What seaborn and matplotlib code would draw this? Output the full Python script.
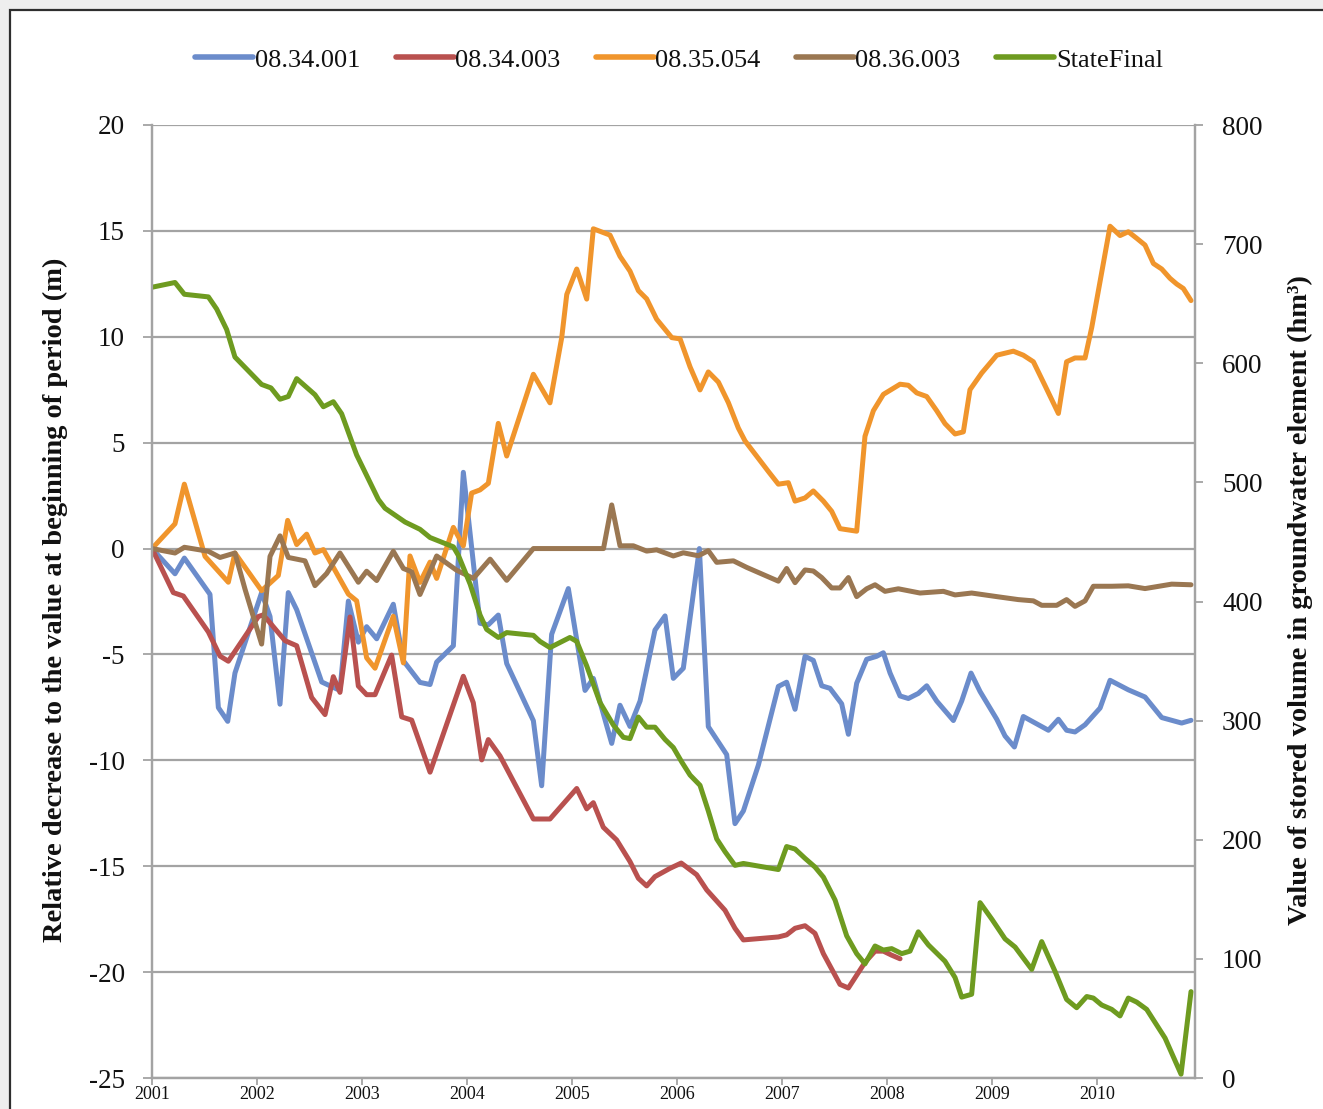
import numpy as np
import pandas as pd
import matplotlib
matplotlib.use("Agg")
import matplotlib.pyplot as plt
import seaborn as sns
from matplotlib.patches import Rectangle

# ---------------- data (decimal years) ----------------
blue_x = [2001.0, 2001.219, 2001.308, 2001.552, 2001.632, 2001.721, 2001.79, 2002.044, 2002.124, 2002.219,
          2002.298, 2002.378, 2002.616, 2002.79, 2002.87, 2002.965, 2003.044, 2003.14, 2003.298, 2003.394,
          2003.552, 2003.648, 2003.711, 2003.87, 2003.965, 2004.124, 2004.203, 2004.298, 2004.378, 2004.632,
          2004.711, 2004.806, 2004.965, 2005.124, 2005.203, 2005.378, 2005.457, 2005.552, 2005.648, 2005.79,
          2005.886, 2005.965, 2006.06, 2006.213, 2006.298, 2006.473, 2006.552, 2006.632, 2006.775, 2006.965,
          2007.044, 2007.124, 2007.219, 2007.298, 2007.378, 2007.457, 2007.568, 2007.632, 2007.711, 2007.806,
          2007.9, 2007.965, 2008.029, 2008.124, 2008.203, 2008.298, 2008.378, 2008.473, 2008.632, 2008.711,
          2008.8, 2008.886, 2008.965, 2009.045, 2009.124, 2009.213, 2009.298, 2009.537, 2009.632, 2009.71,
          2009.79, 2009.886, 2010.029, 2010.124, 2010.298, 2010.457, 2010.616, 2010.806, 2010.895]
blue_y = [0, -1.19, -0.45, -2.16, -7.51, -8.16, -5.88, -2.08, -3.21, -7.35,
          -2.08, -2.89, -6.3, -6.7, -2.48, -4.42, -3.69, -4.26, -2.63, -5.3,
          -6.32, -6.42, -5.36, -4.59, 3.6, -3.53, -3.6, -3.14, -5.43, -8.13,
          -11.2, -4.05, -1.89, -6.7, -6.13, -9.2, -7.4, -8.4, -7.2, -3.85,
          -3.18, -6.13, -5.65, 0.0, -8.41, -9.73, -12.99, -12.39, -10.22, -6.51,
          -6.31, -7.59, -5.09, -5.28, -6.48, -6.6, -7.33, -8.77, -6.36, -5.23,
          -5.09, -4.92, -5.88, -6.96, -7.08, -6.84, -6.48, -7.2, -8.12, -7.2,
          -5.88, -6.75, -7.4, -8.06, -8.85, -9.37, -7.93, -8.58, -8.06, -8.58,
          -8.66, -8.32, -7.53, -6.22, -6.67, -7.01, -7.98, -8.24, -8.11]

red_x = [2001.0, 2001.203, 2001.298, 2001.537, 2001.648, 2001.727, 2002.013, 2002.06, 2002.267, 2002.378,
         2002.52, 2002.648, 2002.727, 2002.79, 2002.886, 2002.965, 2003.044, 2003.124, 2003.282, 2003.378,
         2003.473, 2003.648, 2003.965, 2004.06, 2004.14, 2004.203, 2004.314, 2004.632, 2004.79, 2005.045,
         2005.14, 2005.203, 2005.298, 2005.425, 2005.552, 2005.632, 2005.711, 2005.79, 2005.933, 2006.04,
         2006.187, 2006.283, 2006.457, 2006.552, 2006.632, 2006.965, 2007.044, 2007.124, 2007.219, 2007.314,
         2007.394, 2007.552, 2007.632, 2007.79, 2007.886, 2007.965, 2008.044, 2008.124]
red_y = [0, -2.08, -2.24, -3.94, -5.08, -5.32, -3.21, -3.13, -4.35, -4.59,
         -7.03, -7.84, -6.05, -6.79, -3.23, -6.49, -6.9, -6.9, -5.03, -7.95,
         -8.1, -10.56, -6.03, -7.28, -9.98, -9.02, -9.79, -12.77, -12.77, -11.33,
         -12.29, -12.0, -13.16, -13.76, -14.78, -15.57, -15.93, -15.49, -15.1, -14.85,
         -15.4, -16.12, -17.08, -17.93, -18.48, -18.34, -18.24, -17.93, -17.81, -18.17,
         -19.13, -20.58, -20.75, -19.54, -19.01, -19.01, -19.2, -19.37]

orange_x = [2001.0, 2001.219, 2001.308, 2001.505, 2001.727, 2001.79, 2002.044, 2002.203, 2002.292, 2002.378,
            2002.473, 2002.552, 2002.632, 2002.87, 2002.949, 2003.044, 2003.124, 2003.298, 2003.394, 2003.457,
            2003.552, 2003.648, 2003.711, 2003.87, 2003.965, 2004.044, 2004.124, 2004.203, 2004.298, 2004.378,
            2004.632, 2004.79, 2004.902, 2004.95, 2005.045, 2005.14, 2005.203, 2005.362, 2005.457, 2005.552,
            2005.632, 2005.711, 2005.806, 2005.95, 2006.029, 2006.124, 2006.219, 2006.298, 2006.394, 2006.489,
            2006.584, 2006.648, 2006.759, 2006.87, 2006.965, 2007.06, 2007.124, 2007.219, 2007.298, 2007.394,
            2007.473, 2007.552, 2007.711, 2007.79, 2007.87, 2007.965, 2008.124, 2008.203, 2008.283, 2008.378,
            2008.473, 2008.552, 2008.648, 2008.727, 2008.79, 2008.902, 2009.045, 2009.203, 2009.298, 2009.394,
            2009.505, 2009.632, 2009.71, 2009.79, 2009.886, 2009.95, 2010.124, 2010.219, 2010.298, 2010.378,
            2010.457, 2010.537, 2010.616, 2010.695, 2010.759, 2010.822, 2010.895]
orange_y = [0, 1.17, 3.04, -0.37, -1.59, -0.21, -1.99, -1.27, 1.33, 0.19,
            0.68, -0.21, -0.05, -2.15, -2.47, -5.16, -5.65, -3.2, -5.4, -0.35,
            -1.6, -0.64, -1.41, 1.0, 0.13, 2.62, 2.77, 3.08, 5.91, 4.37,
            8.23, 6.88, 9.96, 12.0, 13.2, 11.78, 15.1, 14.8, 13.8, 13.1,
            12.18, 11.79, 10.83, 9.96, 9.9, 8.58, 7.49, 8.34, 7.86, 6.89,
            5.69, 5.08, 4.36, 3.64, 3.04, 3.11, 2.24, 2.39, 2.72, 2.24,
            1.76, 0.94, 0.82, 5.3, 6.51, 7.28, 7.76, 7.71, 7.35, 7.18,
            6.51, 5.9, 5.41, 5.51, 7.5, 8.29, 9.13, 9.32, 9.13, 8.82,
            7.69, 6.38, 8.82, 9.0, 9.0, 10.45, 15.22, 14.78, 14.96, 14.65,
            14.33, 13.46, 13.2, 12.76, 12.49, 12.28, 11.71]

brown_x = [2001.0, 2001.219, 2001.308, 2001.537, 2001.648, 2001.79, 2001.886, 2002.044, 2002.124, 2002.219,
           2002.298, 2002.457, 2002.552, 2002.663, 2002.79, 2002.965, 2003.044, 2003.14, 2003.298, 2003.394,
           2003.473, 2003.552, 2003.711, 2003.9, 2004.06, 2004.22, 2004.378, 2004.632, 2005.3, 2005.378,
           2005.457, 2005.584, 2005.711, 2005.806, 2005.965, 2006.06, 2006.203, 2006.298, 2006.378, 2006.537,
           2006.664, 2006.965, 2007.044, 2007.124, 2007.219, 2007.298, 2007.378, 2007.473, 2007.552, 2007.632,
           2007.711, 2007.806, 2007.886, 2007.981, 2008.108, 2008.314, 2008.537, 2008.648, 2008.806, 2009.06,
           2009.25, 2009.394, 2009.473, 2009.616, 2009.71, 2009.79, 2009.886, 2009.965, 2010.14, 2010.298,
           2010.457, 2010.711, 2010.895]
brown_y = [0, -0.21, 0.06, -0.13, -0.42, -0.21, -1.92, -4.51, -0.37, 0.6,
           -0.42, -0.58, -1.75, -1.18, -0.21, -1.59, -1.07, -1.51, -0.13, -0.94,
           -1.1, -2.17, -0.35, -1.02, -1.41, -0.5, -1.5, 0.0, 0.0, 2.06,
           0.13, 0.13, -0.12, -0.06, -0.35, -0.2, -0.34, -0.1, -0.65, -0.58,
           -0.89, -1.54, -0.94, -1.61, -1.01, -1.06, -1.37, -1.86, -1.86, -1.37,
           -2.27, -1.9, -1.71, -2.02, -1.9, -2.1, -2.02, -2.19, -2.1, -2.28,
           -2.41, -2.47, -2.68, -2.68, -2.41, -2.73, -2.47, -1.78, -1.78, -1.76,
           -1.89, -1.68, -1.71]

green_x = [2001.0, 2001.219, 2001.308, 2001.537, 2001.616, 2001.711, 2001.79, 2002.044, 2002.133, 2002.219,
           2002.298, 2002.378, 2002.552, 2002.632, 2002.727, 2002.806, 2002.949, 2003.156, 2003.219, 2003.41,
           2003.552, 2003.648, 2003.87, 2003.92, 2004.03, 2004.124, 2004.187, 2004.298, 2004.378, 2004.632,
           2004.695, 2004.79, 2004.98, 2005.045, 2005.14, 2005.267, 2005.394, 2005.489, 2005.552, 2005.632,
           2005.711, 2005.79, 2005.886, 2005.965, 2006.045, 2006.124, 2006.219, 2006.298, 2006.378, 2006.457,
           2006.552, 2006.632, 2006.965, 2007.044, 2007.124, 2007.219, 2007.314, 2007.394, 2007.505, 2007.616,
           2007.711, 2007.79, 2007.886, 2007.965, 2008.044, 2008.14, 2008.219, 2008.298, 2008.394, 2008.552,
           2008.648, 2008.711, 2008.806, 2008.886, 2009.0, 2009.124, 2009.22, 2009.378, 2009.473, 2009.6,
           2009.71, 2009.806, 2009.902, 2009.965, 2010.044, 2010.14, 2010.219, 2010.298, 2010.378, 2010.473,
           2010.648, 2010.8, 2010.895]
green_y = [663.8, 667.8, 657.9, 655.7, 645.5, 628.3, 605.2, 582.2, 579.3, 569.8,
           572.1, 587.1, 573.6, 563.5, 567.7, 557.6, 523.0, 485.6, 478.3, 466.7,
           460.6, 453.7, 445.9, 438.3, 414.5, 388.7, 376.6, 369.8, 373.9, 371.6,
           366.5, 361.3, 369.8, 366.5, 345.9, 315.1, 296.3, 286.0, 284.9, 303.0,
           294.5, 294.5, 284.2, 277.4, 265.3, 254.3, 245.7, 224.2, 200.7, 190.0,
           178.5, 180.1, 175.0, 194.3, 192.2, 184.4, 177.1, 168.6, 149.4, 119.3,
           104.4, 95.8, 110.8, 107.4, 108.6, 104.4, 106.5, 122.7, 111.7, 98.0,
           84.3, 67.9, 70.3, 147.2, 133.1, 116.8, 109.9, 91.2, 114.5, 89.5,
           66.0, 59.0, 68.4, 67.1, 61.3, 57.6, 52.1, 67.1, 63.7, 57.6,
           33.5, 3.2, 72.5]

series_names = ["08.34.001", "08.34.003", "08.35.054", "08.36.003", "StateFinal"]
year_ticks = [2001, 2002, 2003, 2004, 2005, 2006, 2007, 2008, 2009, 2010]
left_ticks = [-25, -20, -15, -10, -5, 0, 5, 10, 15, 20]
right_ticks = [0, 100, 200, 300, 400, 500, 600, 700, 800]
left_label = "Relative decrease to the value at beginning of period (m)"
right_label = "Value of stored volume in groundwater element (hm³)"

colors = ["#6B8CCB", "#B9514F", "#F0952C", "#9A7752", "#6E9B20"]

# ---------------- style ----------------
sns.set_theme(style="white")
plt.rcParams['font.family'] = ['Liberation Serif', 'DejaVu Serif']
plt.rcParams['axes.unicode_minus'] = False

W, H = 1323, 1109
fig = plt.figure(figsize=(W / 100, H / 100), dpi=100, facecolor="#eeeeee")
fig.patches.append(Rectangle((10 / W, -0.05), 1.0, 1 - 10 / H + 0.05, transform=fig.transFigure,
                             facecolor="white", edgecolor="#2e2e2e", linewidth=1.6, zorder=-10))

ax = fig.add_axes([152 / W, 1 - 1078 / H, 1043 / W, 953 / H])
ax.set_facecolor("white")
ax2 = ax.twinx()

lw = 3.6
left_series = [(blue_x, blue_y), (red_x, red_y), (orange_x, orange_y), (brown_x, brown_y)]
handles = []
for (xs, ys), name, c in zip(left_series, series_names[:4], colors[:4]):
    df = pd.DataFrame({"year": xs, "value": ys})
    sns.lineplot(data=df, x="year", y="value", ax=ax, color=c, linewidth=lw, sort=False,
                 estimator=None, label=name, solid_capstyle="round", solid_joinstyle="round")
    handles.append(ax.lines[-1])

dfg = pd.DataFrame({"year": green_x, "value": green_y})
sns.lineplot(data=dfg, x="year", y="value", ax=ax2, color=colors[4], linewidth=lw, sort=False,
             estimator=None, label=series_names[4], solid_capstyle="round", solid_joinstyle="round")
handles.append(ax2.lines[-1])

for a in (ax, ax2):
    if a.get_legend() is not None:
        a.get_legend().remove()

grid_c = "#a3a3a3"
ax.set_xlim(2001, 2010.933)
ax.set_ylim(-25, 20)
ax2.set_ylim(0, 800)
ax.set_yticks(left_ticks)
ax.set_yticklabels([str(t) for t in left_ticks])
ax2.set_yticks(right_ticks)
ax2.set_yticklabels([str(t) for t in right_ticks])
ax.set_xticks(year_ticks)
ax.set_xticklabels([str(t) for t in year_ticks])

ax.yaxis.grid(True, color=grid_c, linewidth=1.6)
ax.xaxis.grid(False)
ax.set_axisbelow(True)

for a in (ax, ax2):
    a.spines["top"].set_visible(False)
    for s in ("left", "right", "bottom"):
        a.spines[s].set_color(grid_c)
        a.spines[s].set_linewidth(1.6)

ax.tick_params(axis="y", which="major", direction="out", length=6.5, width=1.3, color=grid_c,
               pad=13, labelsize=19.5, labelcolor="#111111", left=True)
ax2.tick_params(axis="y", which="major", direction="out", length=6, width=1.3, color=grid_c,
                pad=13.5, labelsize=19.5, labelcolor="#111111", right=True)
ax.tick_params(axis="x", which="major", direction="out", length=5, width=1.3, color=grid_c,
               pad=1.0, labelsize=13, labelcolor="#111111", bottom=True)

ax.set_xlabel("")
ax.set_ylabel(left_label, fontsize=20.5, fontweight="bold", color="#111111")
ax.yaxis.set_label_coords(-0.0805, 0.5016)
ax2.set_ylabel(right_label, fontsize=20.5, fontweight="bold", color="#111111", rotation=90)
ax2.yaxis.set_label_coords(1.089, 0.5016)

leg = fig.legend(handles, series_names, loc="center", bbox_to_anchor=(679 / W, 1 - 60 / H), ncol=5,
                 frameon=False, fontsize=19, handlelength=2.2, handletextpad=0.05, columnspacing=1.35,
                 labelcolor="#111111")
for h in leg.get_lines():
    h.set_linewidth(4.0)

fig.savefig("out.png", dpi=100, facecolor=fig.get_facecolor())
